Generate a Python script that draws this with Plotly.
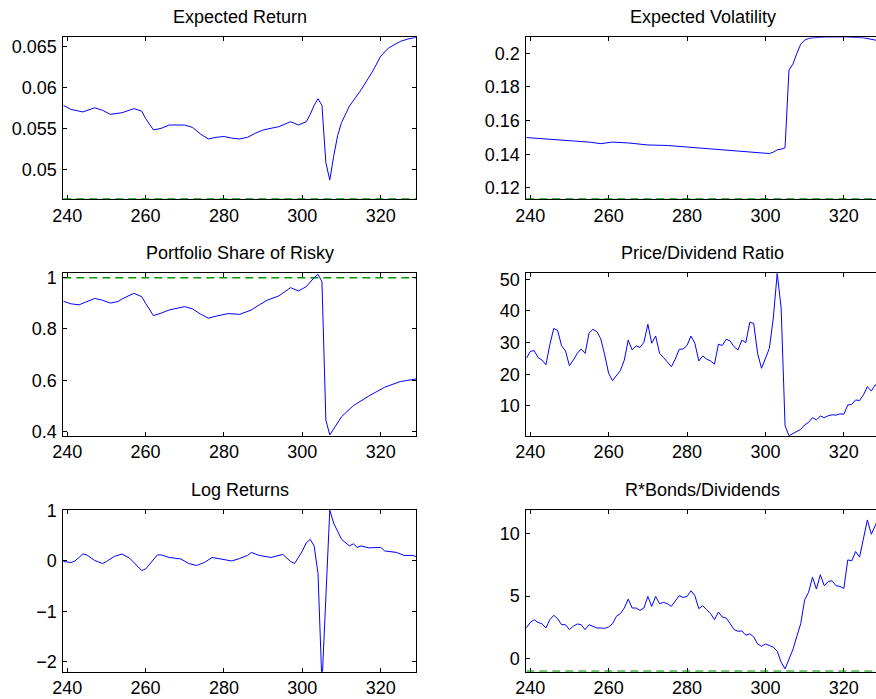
import plotly.graph_objects as go

# ---------------- data ----------------
# Expected Return
er_x = [239, 241, 244, 247, 249, 251, 254, 257, 259, 260, 262, 264, 266, 270, 272, 274,
        276, 278, 280, 282, 284, 286, 288, 290, 294, 297, 299, 301, 302, 303, 304, 305,
        306, 307, 308, 309, 310, 312, 315, 318, 320, 322, 325, 327, 329]
er_y = [0.0578, 0.0573, 0.0570, 0.0575, 0.0572, 0.0567, 0.0569, 0.0574, 0.0571, 0.0562,
        0.0548, 0.0550, 0.0554, 0.0554, 0.0551, 0.0543, 0.0537, 0.0539, 0.0540, 0.0538,
        0.0537, 0.0539, 0.0544, 0.0548, 0.0552, 0.0558, 0.0554, 0.0558, 0.0567, 0.0578,
        0.0586, 0.0578, 0.0508, 0.0487, 0.0516, 0.0541, 0.0557, 0.0577, 0.0597, 0.0620,
        0.0638, 0.0648, 0.0656, 0.0659, 0.0661]
er_floor = 0.0464

# Expected Volatility
ev_x = [239, 245, 250, 255, 258, 259, 261, 265, 270, 275, 280, 285, 290, 295, 300, 301,
        302, 303, 304, 305, 306, 307, 308, 309, 310, 311, 312, 315, 320, 325, 329]
ev_y = [0.1499, 0.1490, 0.1481, 0.1472, 0.1463, 0.1465, 0.1472, 0.1467, 0.1455, 0.1452,
        0.1442, 0.1432, 0.1424, 0.1415, 0.1406, 0.1404, 0.1412, 0.1426, 0.1430, 0.1438,
        0.1900, 0.1935, 0.1999, 0.2054, 0.2078, 0.2088, 0.2092, 0.2096, 0.2097, 0.2092,
        0.2074]
ev_floor = 0.1135

# Portfolio Share of Risky
ps_x = [239, 241, 243, 245, 247, 249, 251, 253, 254, 257, 259, 260, 262, 264, 266, 270,
        272, 274, 276, 278, 281, 284, 287, 289, 291, 294, 297, 299, 301, 303, 304, 305,
        306, 307, 308, 310, 313, 317, 321, 325, 329]
ps_y = [0.908, 0.898, 0.894, 0.906, 0.919, 0.912, 0.901, 0.907, 0.917, 0.939, 0.926,
        0.900, 0.852, 0.862, 0.874, 0.887, 0.878, 0.858, 0.842, 0.850, 0.860, 0.857,
        0.874, 0.894, 0.912, 0.929, 0.961, 0.948, 0.965, 1.000, 1.013, 0.984, 0.445,
        0.387, 0.410, 0.458, 0.501, 0.539, 0.573, 0.595, 0.605]
ps_ref = 1.0

# Price/Dividend Ratio (one value per period, 239..329)
pd_start = 239
pd_y = [25.0, 27.2, 27.5, 25.3, 24.5, 23.0, 29.3, 34.5, 33.8, 29.0,
        27.4, 22.7, 24.5, 26.6, 28.0, 26.6, 33.0, 34.2, 33.5, 31.2,
        26.1, 20.3, 18.0, 19.6, 21.2, 24.5, 30.8, 27.7, 29.0, 28.5,
        30.1, 35.8, 29.8, 32.1, 26.6, 25.3, 23.8, 22.4, 24.8, 27.9,
        28.0, 29.1, 32.1, 29.8, 24.2, 25.8, 24.8, 24.2, 23.2, 29.5,
        29.1, 31.1, 30.5, 28.7, 27.7, 30.8, 30.0, 36.4, 36.1, 26.6,
        21.9, 25.3, 28.2, 37.7, 51.9, 41.0, 3.8, 0.6, 1.2, 1.9,
        2.6, 4.0, 4.8, 6.3, 5.6, 6.8, 6.3, 6.9, 7.2, 7.1,
        7.5, 7.4, 10.3, 10.5, 11.9, 11.7, 13.5, 16.1, 14.7, 16.6,
        17.5]

# Log Returns
lr_x = [239, 241, 242, 244, 245, 247, 249, 250, 252, 254, 256, 258, 259, 260, 262, 263,
        264, 266, 269, 271, 273, 275, 277, 279, 282, 284, 286, 287, 289, 292, 294, 295,
        297, 298, 299, 300, 301, 302, 303, 304, 305, 306, 307, 308, 310, 312, 313, 314,
        315, 317, 320, 321, 323, 324, 326, 328, 329]
lr_y = [-0.01, -0.03, 0.00, 0.14, 0.12, 0.01, -0.05, -0.01, 0.09, 0.14, 0.05, -0.11,
        -0.19, -0.16, 0.03, 0.12, 0.12, 0.07, 0.04, -0.05, -0.09, -0.03, 0.07, 0.04,
        0.00, 0.05, 0.11, 0.17, 0.11, 0.07, 0.11, 0.13, -0.01, -0.05, 0.07, 0.20,
        0.36, 0.43, 0.30, -0.25, -2.45, -0.60, 1.01, 0.75, 0.43, 0.30, 0.34, 0.27,
        0.30, 0.26, 0.27, 0.20, 0.17, 0.17, 0.11, 0.11, 0.09]

# R*Bonds/Dividends (one value per period, 239..329)
bd_start = 239
bd_y = [2.46, 2.90, 3.12, 2.90, 2.80, 2.46, 3.12, 3.47, 3.20, 2.72,
        2.72, 2.33, 2.60, 2.78, 2.72, 2.33, 2.72, 2.60, 2.46, 2.46,
        2.43, 2.54, 2.80, 3.39, 3.60, 4.05, 4.76, 4.05, 4.05, 3.86,
        4.05, 4.97, 4.18, 4.97, 4.39, 4.50, 4.39, 4.18, 4.58, 5.03,
        4.89, 4.97, 5.42, 5.03, 4.00, 4.23, 3.92, 3.60, 3.12, 3.73,
        3.33, 3.25, 2.80, 2.33, 2.20, 2.22, 1.88, 2.00, 1.75, 1.19,
        1.00, 1.19, 1.06, 0.93, 0.61, -0.26, -0.79, -0.05, 0.74, 1.80,
        2.80, 4.70, 5.30, 6.50, 5.56, 6.70, 5.82, 6.16, 6.22, 5.82,
        5.77, 5.60, 7.88, 7.80, 8.54, 8.10, 9.60, 11.06, 9.92, 10.66,
        11.30]
bd_floor = -0.98

titles = ["Expected Return", "Expected Volatility", "Portfolio Share of Risky",
          "Price/Dividend Ratio", "Log Returns", "R*Bonds/Dividends"]
x_ticks = [240, 260, 280, 300, 320]

pd_x = list(range(pd_start, pd_start + len(pd_y)))
bd_x = list(range(bd_start, bd_start + len(bd_y)))

# ---------------- figure ----------------
BLUE = "rgb(0,0,255)"
GREEN = "rgb(0,150,0)"
DASH = "8px,5px"
FONT = "Liberation Sans, Arial, Helvetica, sans-serif"

fig = go.Figure()

def line(x, y, n, color=BLUE, dash="solid", width=1):
    ax = "" if n == 1 else str(n)
    fig.add_trace(go.Scatter(x=x, y=y, mode="lines", xaxis="x" + ax, yaxis="y" + ax,
                             line=dict(color=color, width=width, dash=dash),
                             showlegend=False, hoverinfo="skip"))

line([239, 329], [er_floor, er_floor], 1, GREEN, DASH, 1.2)
line(er_x, er_y, 1)
line([239, 329], [ev_floor, ev_floor], 2, GREEN, DASH, 1.2)
line(ev_x, ev_y, 2)
line([239, 329], [ps_ref, ps_ref], 3, GREEN, DASH, 1.5)
line(ps_x, ps_y, 3)
line(pd_x, pd_y, 4)
line(lr_x, lr_y, 5)
line([239, 329], [bd_floor, bd_floor], 6, GREEN, DASH, 1.2)
line(bd_x, bd_y, 6)

W, H = 876, 699
left_dom = [63.3 / W, 416.0 / W]
right_dom = [526.3 / W, 1.0]
rows = [[1 - 199.3 / H, 1 - 37.3 / H],
        [1 - 435.7 / H, 1 - 273.3 / H],
        [1 - 671.7 / H, 1 - 510.0 / H]]

y_cfg = [
    dict(range=[0.04634, 0.0661], tickvals=[0.05, 0.055, 0.06, 0.065],
         ticktext=["0.05", "0.055", "0.06", "0.065"]),
    dict(range=[0.1132, 0.2095], tickvals=[0.12, 0.14, 0.16, 0.18, 0.2],
         ticktext=["0.12", "0.14", "0.16", "0.18", "0.2"]),
    dict(range=[0.384, 1.017], tickvals=[0.4, 0.6, 0.8, 1.0],
         ticktext=["0.4", "0.6", "0.8", "1"]),
    dict(range=[0.6, 51.9], tickvals=[10, 20, 30, 40, 50],
         ticktext=["10", "20", "30", "40", "50"]),
    dict(range=[-2.2, 1.013], tickvals=[-2, -1, 0, 1],
         ticktext=["\u22122", "\u22121", "0", "1"]),
    dict(range=[-1.02, 11.85], tickvals=[0, 5, 10],
         ticktext=["0", "5", "10"]),
]
over_axis = {0, 1, 5}   # panels whose green floor line is drawn over the frame

tickfont = dict(family=FONT, size=18, color="black")
layout = dict(width=W, height=H, autosize=False,
              margin=dict(l=0, r=0, t=0, b=0, pad=0, autoexpand=False),
              paper_bgcolor="white", plot_bgcolor="white",
              font=dict(family=FONT, size=18, color="black"),
              showlegend=False, annotations=[])

for i in range(6):
    n = i + 1
    ax = "" if n == 1 else str(n)
    is_right = (i % 2 == 1)
    row = i // 2
    xr = [239, 328.2] if is_right else [239, 329]
    layer = "below traces" if i in over_axis else "above traces"
    layout["xaxis" + ax] = dict(
        domain=right_dom if is_right else left_dom, range=xr, anchor="y" + ax,
        tickvals=x_ticks, ticktext=[str(t) for t in x_ticks], automargin=False,
        ticks="inside", ticklen=4, tickcolor="black", tickwidth=1,
        showline=True, linecolor="black", linewidth=1, mirror="ticks", layer=layer,
        showgrid=False, zeroline=False, tickfont=tickfont, fixedrange=True)
    yc = y_cfg[i]
    layout["yaxis" + ax] = dict(
        domain=rows[row], range=yc["range"], anchor="x" + ax,
        tickvals=yc["tickvals"], ticktext=yc["ticktext"], automargin=False,
        ticks="inside", ticklen=4, tickcolor="black", tickwidth=1,
        showline=True, linecolor="black", linewidth=1,
        mirror=False if is_right else "ticks", ticklabelstandoff=2, layer=layer,
        showgrid=False, zeroline=False, tickfont=tickfont, fixedrange=True)
    cx = (526.3 + 879.0) / 2 / W if is_right else (left_dom[0] + left_dom[1]) / 2
    layout["annotations"].append(dict(
        text=titles[i], x=cx, y=rows[row][1], xref="paper", yref="paper",
        xanchor="center", yanchor="middle", yshift=20, showarrow=False,
        font=dict(family=FONT, size=18, color="black")))

fig.update_layout(**layout)
fig.write_html(
    "out.html",
    config={"displayModeBar": False},
    post_script="document.body.style.margin='0';document.body.style.overflow='hidden';",
)
